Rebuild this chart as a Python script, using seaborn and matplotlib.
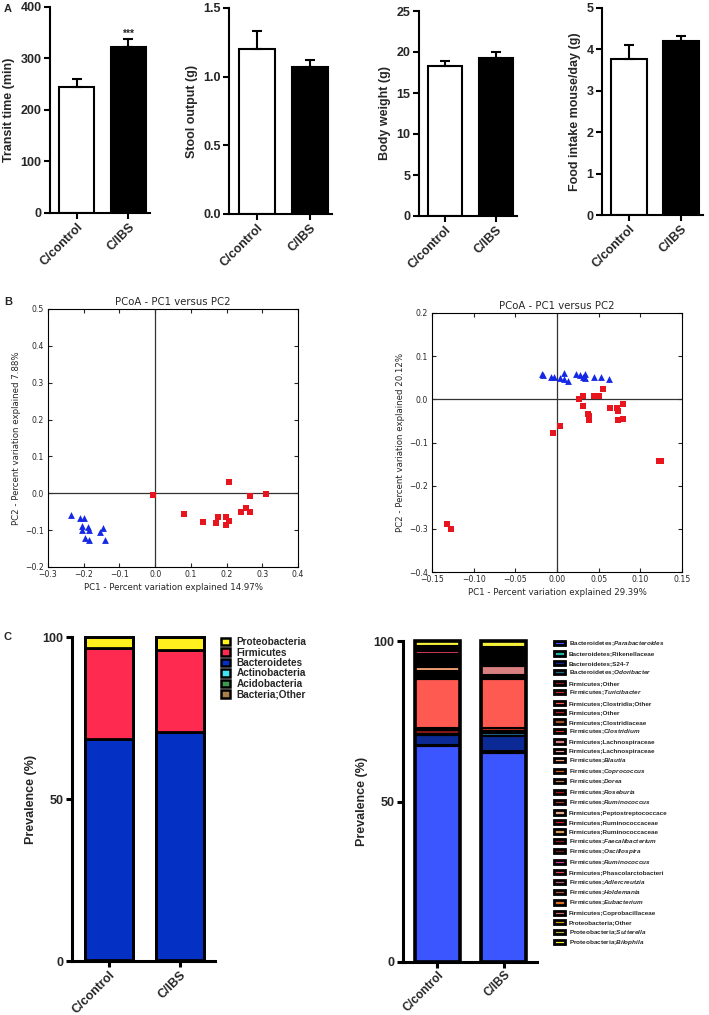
import matplotlib
matplotlib.use("Agg")
import matplotlib.pyplot as plt
from matplotlib.patches import Patch, Rectangle
from matplotlib.legend_handler import HandlerPatch
import numpy as np
import pandas as pd
import seaborn as sns

# ---- panel A: physiology bars (mean, upper SEM) ----
groups = ["C/control", "C/IBS"]
transit_mean = [245, 323]
transit_sem = [15, 14]
stool_mean = [1.20, 1.07]
stool_sem = [0.13, 0.05]
weight_mean = [18.3, 19.3]
weight_sem = [0.6, 0.7]
food_mean = [3.77, 4.20]
food_sem = [0.33, 0.12]

# ---- panel B: PCoA coordinates ----
left_blue_x = [-0.235, -0.210, -0.200, -0.206, -0.204, -0.189, -0.186, -0.195, -0.185, -0.154, -0.145, -0.141]
left_blue_y = [-0.059, -0.066, -0.068, -0.088, -0.099, -0.091, -0.100, -0.120, -0.127, -0.104, -0.093, -0.126]
left_red_x = [-0.007, 0.082, 0.133, 0.171, 0.176, 0.197, 0.198, 0.207, 0.206, 0.239, 0.255, 0.266, 0.265, 0.309]
left_red_y = [-0.004, -0.055, -0.078, -0.081, -0.064, -0.065, -0.085, -0.074, 0.030, -0.050, -0.041, -0.052, -0.008, -0.003]
left_xticks = [-0.3, -0.2, -0.1, 0.0, 0.1, 0.2, 0.3, 0.4]
left_yticks = [-0.2, -0.1, 0.0, 0.1, 0.2, 0.3, 0.4, 0.5]

right_blue_x = [-0.018, -0.0164, -0.0068, -0.004, 0.0032, 0.0088, 0.0088, 0.0136,
                0.0228, 0.027, 0.031, 0.033, 0.034, 0.044, 0.053, 0.062]
right_blue_y = [0.0587, 0.057, 0.052, 0.051, 0.049, 0.060, 0.046, 0.042,
                0.059, 0.057, 0.052, 0.059, 0.049, 0.051, 0.0525, 0.047]
right_red_x = [-0.132, -0.127, -0.0048, 0.004, 0.0268, 0.031, 0.0316, 0.0368, 0.038, 0.0388, 0.044,
               0.0508, 0.0556, 0.0632, 0.072, 0.0728, 0.0732, 0.0792, 0.0796, 0.122, 0.1252]
right_red_y = [-0.289, -0.300, -0.077, -0.062, 0.0015, 0.0085, -0.0147, -0.034, -0.0386, -0.0486, 0.0085,
               0.0085, 0.024, -0.019, -0.019, -0.026, -0.049, -0.045, -0.0116, -0.1436, -0.142]
right_xticks = [-0.15, -0.10, -0.05, 0.00, 0.05, 0.10, 0.15]
right_yticks = [-0.4, -0.3, -0.2, -0.1, 0.0, 0.1, 0.2]

# ---- panel C: phylum composition (legend order = top of stack first) ----
phyla = ["Proteobacteria", "Firmicutes", "Bacteroidetes", "Actinobacteria", "Acidobacteria", "Bacteria;Other"]
phyla_colors = ["#FFF01E", "#FF2A50", "#0530C4", "#40E4F0", "#3C9A50", "#A8804C"]
phyla_control = [3.3, 28.2, 68.2, 0.1, 0.1, 0.1]
phyla_ibs = [4.1, 25.3, 70.4, 0.1, 0.05, 0.05]

# ---- panel C: genus composition (legend order = bottom of stack first) ----
genera = [
    "Bacteroidetes;$\\mathbfit{Parabacteroides}$", "Bacteroidetes;Rikenellaceae", "Bacteroidetes;S24-7",
    "Bacteroidetes;$\\mathbfit{Odoribacter}$", "Firmicutes;Other", "Firmicutes;$\\mathbfit{Turicibacter}$",
    "Firmicutes;Clostridia;Other", "Firmicutes;Other", "Firmicutes;Clostridiaceae",
    "Firmicutes;$\\mathbfit{Clostridium}$", "Firmicutes;Lachnospiraceae", "Firmicutes;Lachnospiraceae",
    "Firmicutes;$\\mathbfit{Blautia}$", "Firmicutes;$\\mathbfit{Coprococcus}$", "Firmicutes;$\\mathbfit{Dorea}$",
    "Firmicutes;$\\mathbfit{Roseburia}$", "Firmicutes;$\\mathbfit{Ruminococcus}$", "Firmicutes;Peptostreptococcace",
    "Firmicutes;Ruminococcaceae", "Firmicutes;Ruminococcaceae", "Firmicutes;$\\mathbfit{Faecalibacterium}$",
    "Firmicutes;$\\mathbfit{Oscillospira}$", "Firmicutes;$\\mathbfit{Ruminococcus}$", "Firmicutes;Phascolarctobacteri",
    "Firmicutes;$\\mathbfit{Adlercreutzia}$", "Firmicutes;$\\mathbfit{Holdemania}$", "Firmicutes;$\\mathbfit{Eubacterium}$",
    "Firmicutes;Coprobacillaceae", "Proteobacteria;Other", "Proteobacteria;$\\mathbfit{Sutterella}$",
    "Proteobacteria;$\\mathbfit{Bilophila}$",
]
genus_colors = [
    "#3B55FF", "#1FB5A5", "#0B2A95", "#1E6E90", "#8B1A1A", "#C0301E", "#FF5A52", "#B22222",
    "#A0522D", "#CD3A1A", "#D98080", "#E8A0A0", "#F5A275", "#D2601E", "#C08060", "#B01515",
    "#A83C2A", "#E8B090", "#C8281E", "#D8A060", "#902020", "#701818", "#D040A0", "#E8405A",
    "#B86070", "#B85A30", "#E07020", "#D06868", "#D4A017", "#B8B040", "#F5F03A",
]
genus_control = [67.3, 0.4, 3.0, 0.3, 1.2, 0.7, 15.2, 0.6, 0.5, 0.4, 0.5, 0.5, 1.3, 0.6, 0.5, 0.4,
                 0.4, 0.3, 0.5, 0.6, 0.3, 0.4, 0.2, 0.9, 0.2, 0.2, 0.2, 0.3, 0.3, 0.2, 1.6]
genus_ibs = [65.2, 0.4, 4.8, 1.0, 0.6, 0.9, 15.2, 0.7, 0.4, 0.3, 2.6, 0.5, 0.4, 0.5, 0.3, 0.6,
             0.3, 0.6, 0.3, 0.3, 0.3, 0.2, 0.2, 0.3, 0.2, 0.2, 0.2, 0.2, 0.2, 0.2, 1.9]

sns.set_style("ticks")
plt.rcParams["font.family"] = ["Liberation Sans", "DejaVu Sans"]
plt.rcParams["font.weight"] = "bold"
plt.rcParams["axes.labelweight"] = "bold"
plt.rcParams["mathtext.fontset"] = "custom"
plt.rcParams["mathtext.rm"] = "Liberation Sans:bold"
plt.rcParams["mathtext.bfit"] = "Liberation Sans:italic:bold"

W, H = 709, 1015
fig = plt.figure(figsize=(W / 100, H / 100), dpi=100)


def px_axes(x0, y0, x1, y1):
    return fig.add_axes([x0 / W, 1 - y1 / H, (x1 - x0) / W, (y1 - y0) / H])


def style_prism(ax, lw, xsize=9, xpad=2):
    sns.despine(ax=ax)
    for side in ["left", "bottom"]:
        ax.spines[side].set_linewidth(lw)
        ax.spines[side].set_color("black")
    ax.tick_params(axis="both", direction="out", length=4, width=lw, color="black", labelsize=9, pad=2)
    ax.tick_params(axis="x", labelsize=xsize, pad=xpad)
    ax.set_xlabel("")
    for lab in ax.get_xticklabels():
        lab.set_rotation(45)
        lab.set_ha("right")
        lab.set_va("top")
        lab.set_rotation_mode("anchor")


def bar_panel(box, means, sems, ylabel, yticks, fmt, stars=None):
    ax = px_axes(*box)
    df = pd.DataFrame({"group": groups, "value": means})
    sns.barplot(data=df, x="group", y="value", hue="group", palette=["white", "black"],
                edgecolor="black", linewidth=1.5, width=0.68, errorbar=None, legend=False, ax=ax)
    ax.errorbar([0, 1], means, yerr=[[0, 0], sems], fmt="none", ecolor="black",
                elinewidth=1.5, capsize=3.6, capthick=1.5, zorder=5)
    ax.set_xlim(-0.52, 1.42)
    ax.set_ylim(yticks[0], yticks[-1])
    ax.set_yticks(yticks)
    ax.set_yticklabels([fmt.format(v) for v in yticks])
    ax.set_ylabel(ylabel, fontsize=9, labelpad=4)
    style_prism(ax, 1.5)
    if stars:
        ax.text(1, means[1] + sems[1] + yticks[-1] * 0.005, stars, ha="center", va="bottom", fontsize=7.5)
    return ax


bar_panel((50, 7, 150, 213), transit_mean, transit_sem, "Transit time (min)", [0, 100, 200, 300, 400], "{:.0f}", "***")
bar_panel((229, 8, 332, 214), stool_mean, stool_sem, "Stool output (g)", [0.0, 0.5, 1.0, 1.5], "{:.1f}")
bar_panel((419, 11, 517, 216), weight_mean, weight_sem, "Body weight (g)", [0, 5, 10, 15, 20, 25], "{:.0f}")
bar_panel((602, 8, 703, 215), food_mean, food_sem, "Food intake mouse/day (g)", [0, 1, 2, 3, 4, 5], "{:.0f}")


def pcoa_panel(box, bx, by, rx, ry, xticks, yticks, xfmt, yfmt, xlabel, ylabel):
    ax = px_axes(*box)
    ax.axhline(0, color="#333333", lw=0.9, zorder=1)
    ax.axvline(0, color="#333333", lw=0.9, zorder=1)
    sns.scatterplot(x=bx, y=by, marker="^", color="#1428E6", s=24, linewidth=0, ax=ax, zorder=3)
    sns.scatterplot(x=rx, y=ry, marker="s", color="#E8141E", s=22, linewidth=0, ax=ax, zorder=3)
    ax.set_xlim(xticks[0], xticks[-1])
    ax.set_ylim(yticks[0], yticks[-1])
    ax.set_xticks(xticks)
    ax.set_yticks(yticks)
    ax.set_xticklabels([xfmt.format(v).replace("-", "\u2212") for v in xticks])
    ax.set_yticklabels([yfmt.format(v).replace("-", "\u2212") for v in yticks])
    ax.tick_params(direction="in", top=True, right=True, length=3, width=0.8, labelsize=5.6, pad=2)
    ax.tick_params(axis="y", pad=3)
    for lab in ax.get_xticklabels() + ax.get_yticklabels():
        lab.set_family("DejaVu Sans")
        lab.set_fontweight("normal")
    for sp in ax.spines.values():
        sp.set_linewidth(0.8)
        sp.set_color("black")
    ax.set_title("PCoA - PC1 versus PC2", fontsize=7.3, fontweight="normal", family="DejaVu Sans", pad=3)
    ax.set_xlabel(xlabel, fontsize=6.2, fontweight="normal", family="DejaVu Sans", labelpad=3)
    ax.set_ylabel(ylabel, fontsize=6.2, fontweight="normal", family="DejaVu Sans", labelpad=3)
    return ax


pcoa_panel((48, 309, 298, 567), left_blue_x, left_blue_y, left_red_x, left_red_y,
           left_xticks, left_yticks, "{:.1f}", "{:.1f}",
           "PC1 - Percent variation explained 14.97%", "PC2 - Percent variation explained 7.88%")
pcoa_panel((432, 313, 682, 572), right_blue_x, right_blue_y, right_red_x, right_red_y,
           right_xticks, right_yticks, "{:.2f}", "{:.1f}",
           "PC1 - Percent variation explained 29.39%", "PC2 - Percent variation explained 20.12%")


def stacked_panel(box, names, colors, control, ibs, edge_lw, outer_lw, top_first, xsize, xpad):
    ax = px_axes(*box)
    order = list(range(len(names)))
    if top_first:
        order = order[::-1]
    bottom = np.zeros(2)
    for k in order:
        vals = np.array([control[k], ibs[k]])
        ax.bar([0, 1], vals, bottom=bottom, width=0.68, color=colors[k],
               edgecolor="black", linewidth=edge_lw, clip_on=False, zorder=2)
        bottom += vals
    # heavy outline around each whole column
    ax.bar([0, 1], bottom, width=0.68, fill=False, edgecolor="black",
           linewidth=outer_lw, clip_on=False, zorder=3)
    ax.set_xlim(-0.52, 1.5)
    ax.set_ylim(0, 100)
    ax.set_yticks([0, 50, 100])
    ax.set_xticks([0, 1])
    ax.set_xticklabels(groups)
    ax.set_ylabel("Prevalence (%)", fontsize=9, labelpad=4)
    style_prism(ax, 2.2, xsize, xpad)
    return ax


axc1 = stacked_panel((72, 637, 215, 961), phyla, phyla_colors, phyla_control, phyla_ibs, 2.0, 2.0, True, 9, 2)
handles = [Patch(facecolor=c, edgecolor="black", linewidth=1.8) for c in phyla_colors]
axc1.legend(handles, phyla, loc="upper left", bbox_to_anchor=(221 / W, 1 - 637 / H),
            bbox_transform=fig.transFigure, frameon=False, fontsize=7.2, handlelength=0.87,
            handleheight=0.77, labelspacing=0.05, handletextpad=0.7, borderpad=0, borderaxespad=0)


def thin_box(legend, orig_handle, xdescent, ydescent, width, height, fontsize):
    # small black box with a thin coloured core, like the GraphPad swatches
    h = height * 0.52
    return Rectangle((-xdescent, -ydescent + (height - h) / 2), width, h)


axc2 = stacked_panel((403, 641, 537, 962), genera, genus_colors, genus_control, genus_ibs, 1.5, 2.6, False, 8.5, 1)
handles = [Patch(facecolor=c, edgecolor="black", linewidth=2.0) for c in genus_colors]
axc2.legend(handles, genera, loc="upper left", bbox_to_anchor=(554 / W, 1 - 639 / H),
            bbox_transform=fig.transFigure, frameon=False, fontsize=4.6, handlelength=1.75,
            handleheight=1.565, labelspacing=0.22, handletextpad=0.6, borderpad=0, borderaxespad=0,
            handler_map={Patch: HandlerPatch(patch_func=thin_box)})

# panel letters
fig.text(4 / W, 1 - 12 / H, "A", fontsize=8, fontweight="bold", va="baseline")
fig.text(4 / W, 1 - 305 / H, "B", fontsize=8, fontweight="bold", va="baseline")
fig.text(3 / W, 1 - 640 / H, "C", fontsize=8, fontweight="bold", va="baseline")

fig.savefig("out.png", dpi=100)
